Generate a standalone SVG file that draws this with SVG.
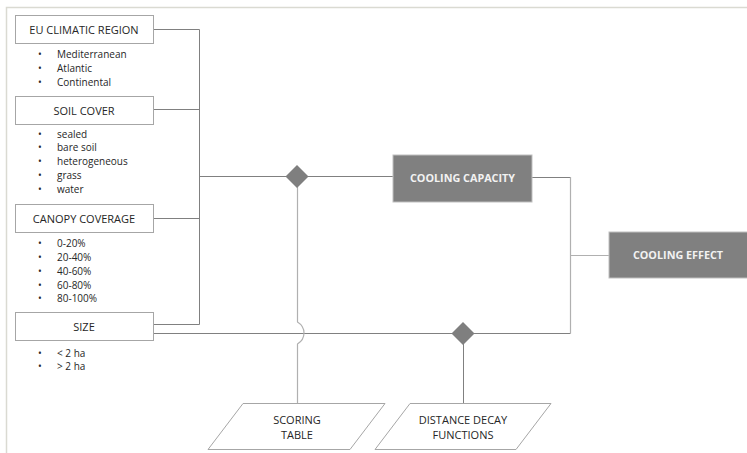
<svg xmlns="http://www.w3.org/2000/svg" width="747" height="453" viewBox="0 0 747 453">
<style>
.frame{stroke:#dadad2;stroke-width:1.5;fill:none}
.box{fill:#fff;stroke:#a6a6a6;stroke-width:1}
.dark{fill:#808080;stroke:#bfbfbf;stroke-width:1}
.para{fill:#fff;stroke:#a6a6a6;stroke-width:1}
.dia{fill:#7f7f7f}
.t{font-family:"Open Sans","Liberation Sans",sans-serif;font-size:11px;fill:#262626;text-anchor:middle}
.tw{font-family:"Open Sans","Liberation Sans",sans-serif;font-size:10.8px;font-weight:bold;fill:#f2f2f2;text-anchor:middle}
.b{font-family:"Open Sans","Liberation Sans",sans-serif;font-size:10px;fill:#262626}
.ln{stroke:#808080;stroke-width:1;fill:none}
.lt{stroke:#b0b0b0;stroke-width:1.2;fill:none}
</style>
<rect width="747" height="453" fill="#fff"/>
<path class="frame" d="M6.5,453 V7.5 H747"/>
<g id="connectors">
<path class="ln" d="M153,29.5 H199.5 V324.5 H153"/>
<path class="ln" d="M153,109.5 H199.5"/>
<path class="ln" d="M153,218.5 H199.5"/>
<path class="ln" d="M199.5,176.5 H393"/>
<path class="ln" d="M153,333.5 H570.5"/>
<path class="ln" d="M532,177.5 H570.5"/>
<path class="lt" d="M570.5,177 V333.5"/>
<path class="lt" d="M570.5,255.5 H609"/>
<path class="lt" d="M297.5,187 V322 Q304,326 304,333 Q304,340 297.5,344 V403"/>
<path class="ln" d="M463.5,344 V403"/>
</g>
<g id="eu-climatic-region">
<rect class="box" x="15.5" y="15.5" width="138" height="28"/>
<text class="t" x="84" y="33.5">EU CLIMATIC REGION</text>
<text class="b" x="38" y="58">•</text><text class="b" x="57" y="58">Mediterranean</text>
<text class="b" x="38" y="72">•</text><text class="b" x="57" y="72">Atlantic</text>
<text class="b" x="38" y="86">•</text><text class="b" x="57" y="86">Continental</text>
</g>
<g id="soil-cover">
<rect class="box" x="15.5" y="96.5" width="138" height="28"/>
<text class="t" x="84" y="114.5">SOIL COVER</text>
<text class="b" x="38" y="138">•</text><text class="b" x="57" y="138">sealed</text>
<text class="b" x="38" y="151">•</text><text class="b" x="57" y="151">bare soil</text>
<text class="b" x="38" y="165">•</text><text class="b" x="57" y="165">heterogeneous</text>
<text class="b" x="38" y="179">•</text><text class="b" x="57" y="179">grass</text>
<text class="b" x="38" y="193">•</text><text class="b" x="57" y="193">water</text>
</g>
<g id="canopy-coverage">
<rect class="box" x="15.5" y="204.5" width="138" height="28"/>
<text class="t" x="84" y="222.5">CANOPY COVERAGE</text>
<text class="b" x="38" y="247">•</text><text class="b" x="57" y="247">0-20%</text>
<text class="b" x="38" y="261">•</text><text class="b" x="57" y="261">20-40%</text>
<text class="b" x="38" y="275">•</text><text class="b" x="57" y="275">40-60%</text>
<text class="b" x="38" y="289">•</text><text class="b" x="57" y="289">60-80%</text>
<text class="b" x="38" y="302">•</text><text class="b" x="57" y="302">80-100%</text>
</g>
<g id="size">
<rect class="box" x="15.5" y="312.5" width="138" height="28"/>
<text class="t" x="84" y="330.5">SIZE</text>
<text class="b" x="38" y="357">•</text><text class="b" x="57" y="357">&lt; 2 ha</text>
<text class="b" x="38" y="370">•</text><text class="b" x="57" y="370">&gt; 2 ha</text>
</g>
<g id="diamond-1">
<polygon class="dia" points="297,165 308.5,176.5 297,188 285.5,176.5"/>
</g>
<g id="diamond-2">
<polygon class="dia" points="463,322 474.5,333.5 463,345 451.5,333.5"/>
</g>
<g id="cooling-capacity">
<rect class="dark" x="393" y="155" width="139" height="47"/>
<text class="tw" x="462.5" y="182">COOLING CAPACITY</text>
</g>
<g id="cooling-effect">
<rect class="dark" x="609" y="232" width="140" height="46"/>
<text class="tw" x="678" y="259">COOLING EFFECT</text>
</g>
<g id="scoring-table">
<polygon class="para" points="243,403.5 385,403.5 350,449.5 208,449.5"/>
<text class="t" x="297" y="424">SCORING</text>
<text class="t" x="297" y="439">TABLE</text>
</g>
<g id="distance-decay-functions">
<polygon class="para" points="410,403.5 551,403.5 516,449.5 375,449.5"/>
<text class="t" x="463" y="424">DISTANCE DECAY</text>
<text class="t" x="463" y="439">FUNCTIONS</text>
</g>
</svg>
